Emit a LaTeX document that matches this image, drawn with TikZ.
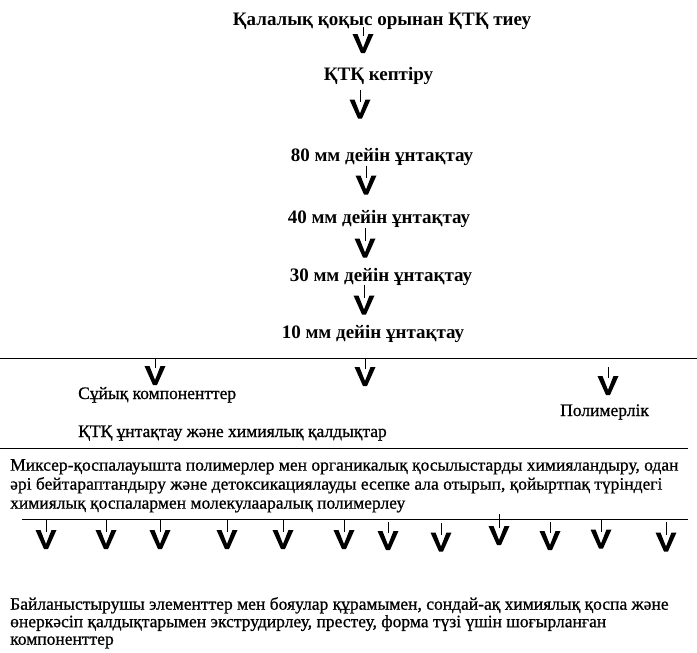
\documentclass[tikz,border=0pt]{standalone}
\usepackage{fontspec}
\setmainfont{Liberation Serif}
\newfontfamily\bodyfont[FakeBold=0.8]{Liberation Serif}
\usetikzlibrary{arrows.meta}

\pgfdeclarearrow{
  name = Vdrop,
  parameters = {},
  setup code = {
    \pgfarrowssettipend{0pt}
    \pgfarrowssetlineend{-17pt}
    \pgfarrowssetbackend{-19pt}
    \pgfarrowssetvisualbackend{-19pt}
    \pgfarrowshullpoint{0pt}{0pt}
    \pgfarrowsupperhullpoint{-19pt}{10.5pt}
  },
  drawing code = {
    \pgfpathmoveto{\pgfpoint{-19pt}{10.5pt}}
    \pgfpathlineto{\pgfpoint{0pt}{2pt}}
    \pgfpathlineto{\pgfpoint{0pt}{-2pt}}
    \pgfpathlineto{\pgfpoint{-19pt}{-10.5pt}}
    \pgfpathlineto{\pgfpoint{-19pt}{-5.5pt}}
    \pgfpathlineto{\pgfpoint{-5pt}{0pt}}
    \pgfpathlineto{\pgfpoint{-19pt}{5.5pt}}
    \pgfpathclose
    \pgfusepathqfill
  }
}

\tikzset{
    stagetext/.style={
        font={\fontsize{19}{22}\selectfont\bfseries},
        inner sep=0pt,
        anchor=base,
        },
    bodytext/.style={
        font={\bodyfont\fontsize{17.5}{#1}\selectfont},
        inner sep=0pt,
        anchor=north west,
        align=left,
        },
    bodytext/.default=19,
    drop/.style={-Vdrop,line width=.8pt},
    rule/.style={line width=.8pt}
    }

\begin{document}
\begin{tikzpicture}[x=1pt,y=-1pt]
    \useasboundingbox (0,0) rectangle (697,653);
    \node[stagetext] (load) at (382,25) {Қалалық қоқыс орынан ҚТҚ тиеу};
    \node[stagetext] (dry) at (378.5,80) {ҚТҚ кептіру};
    \node[stagetext] (g80) at (382,161.5) {80 мм дейін ұнтақтау};
    \node[stagetext] (g40) at (379,223.5) {40 мм дейін ұнтақтау};
    \node[stagetext] (g30) at (381,281.5) {30 мм дейін ұнтақтау};
    \node[stagetext] (g10) at (373,338.5) {10 мм дейін ұнтақтау};
    \draw[drop,shorten <=2pt,shorten >=27pt] (363,0 |- load.base) -- (363,0 |- dry.base);
    \draw[drop,shorten <=10pt,shorten >=43pt] (360,0 |- dry.base) -- (360,0 |- g80.base);
    \draw[drop,shorten <=4pt,shorten >=29pt] (366,0 |- g80.base) -- (366,0 |- g40.base);
    \draw[drop,shorten <=4pt,shorten >=24pt] (365,0 |- g40.base) -- (365,0 |- g30.base);
    \draw[drop,shorten <=3pt,shorten >=24pt] (364,0 |- g30.base) -- (364,0 |- g10.base);

    \coordinate (bus1w) at (0,358);
    \coordinate (bus1e) at (697,358);
    \coordinate (bus2w) at (0,448);
    \coordinate (bus2e) at (688,448);
    \coordinate (bus3w) at (22,519);
    \coordinate (bus3e) at (688,519);
    \draw[rule] (bus1w) -- (bus1e);
    \draw[rule] (bus2w) -- (bus2e);
    \draw[rule] (bus3w) -- (bus3e);

    \node[bodytext,anchor=base west] (liq) at (78,399) {Сұйық компоненттер};
    \node[bodytext,anchor=base west] (poly) at (560,416) {Полимерлік};
    \node[bodytext,anchor=base west] (waste) at (78,437) {ҚТҚ ұнтақтау және химиялық қалдықтар};
    \coordinate (mid) at (365,386);
    \draw[drop,shorten >=14pt] (155,0 |- bus1w) -- (155,0 |- liq.base);
    \draw[drop] (365,0 |- bus1w) -- (mid);
    \draw[drop,shorten <=9pt,shorten >=21pt] (608,0 |- bus1w) -- (608,0 |- poly.base);

    \node[bodytext] (mix) at (10,459) {Миксер-қоспалауышта полимерлер мен органикалық қосылыстарды химияландыру, одан\\
        әрі бейтараптандыру және детоксикациялауды есепке ала отырып, қойыртпақ түріндегі\\
        химиялық қоспалармен молекулааралық полимерлеу};

    \foreach \x/\a/\b [count=\i] in {46/519/549,106/519/549,160/519/549,227/519/549,283/519/549,344/519/549,
        388/522/550,441/523/551.5,499/514/545,550/522/550,601/519/548.5,666/522/551.5}{
        \coordinate (top\i) at (\x,\a);
        \coordinate (tip\i) at (\x,\b);
        \draw[drop] (top\i) -- (tip\i);
    }

    \node[bodytext=17.5] (extr) at (10,597) {Байланыстырушы элементтер мен бояулар құрамымен, сондай-ақ химиялық қоспа және\\
        өнеркәсіп қалдықтарымен экструдирлеу, престеу, форма түзі үшін шоғырланған\\
        компоненттер};
\end{tikzpicture}
\end{document}
